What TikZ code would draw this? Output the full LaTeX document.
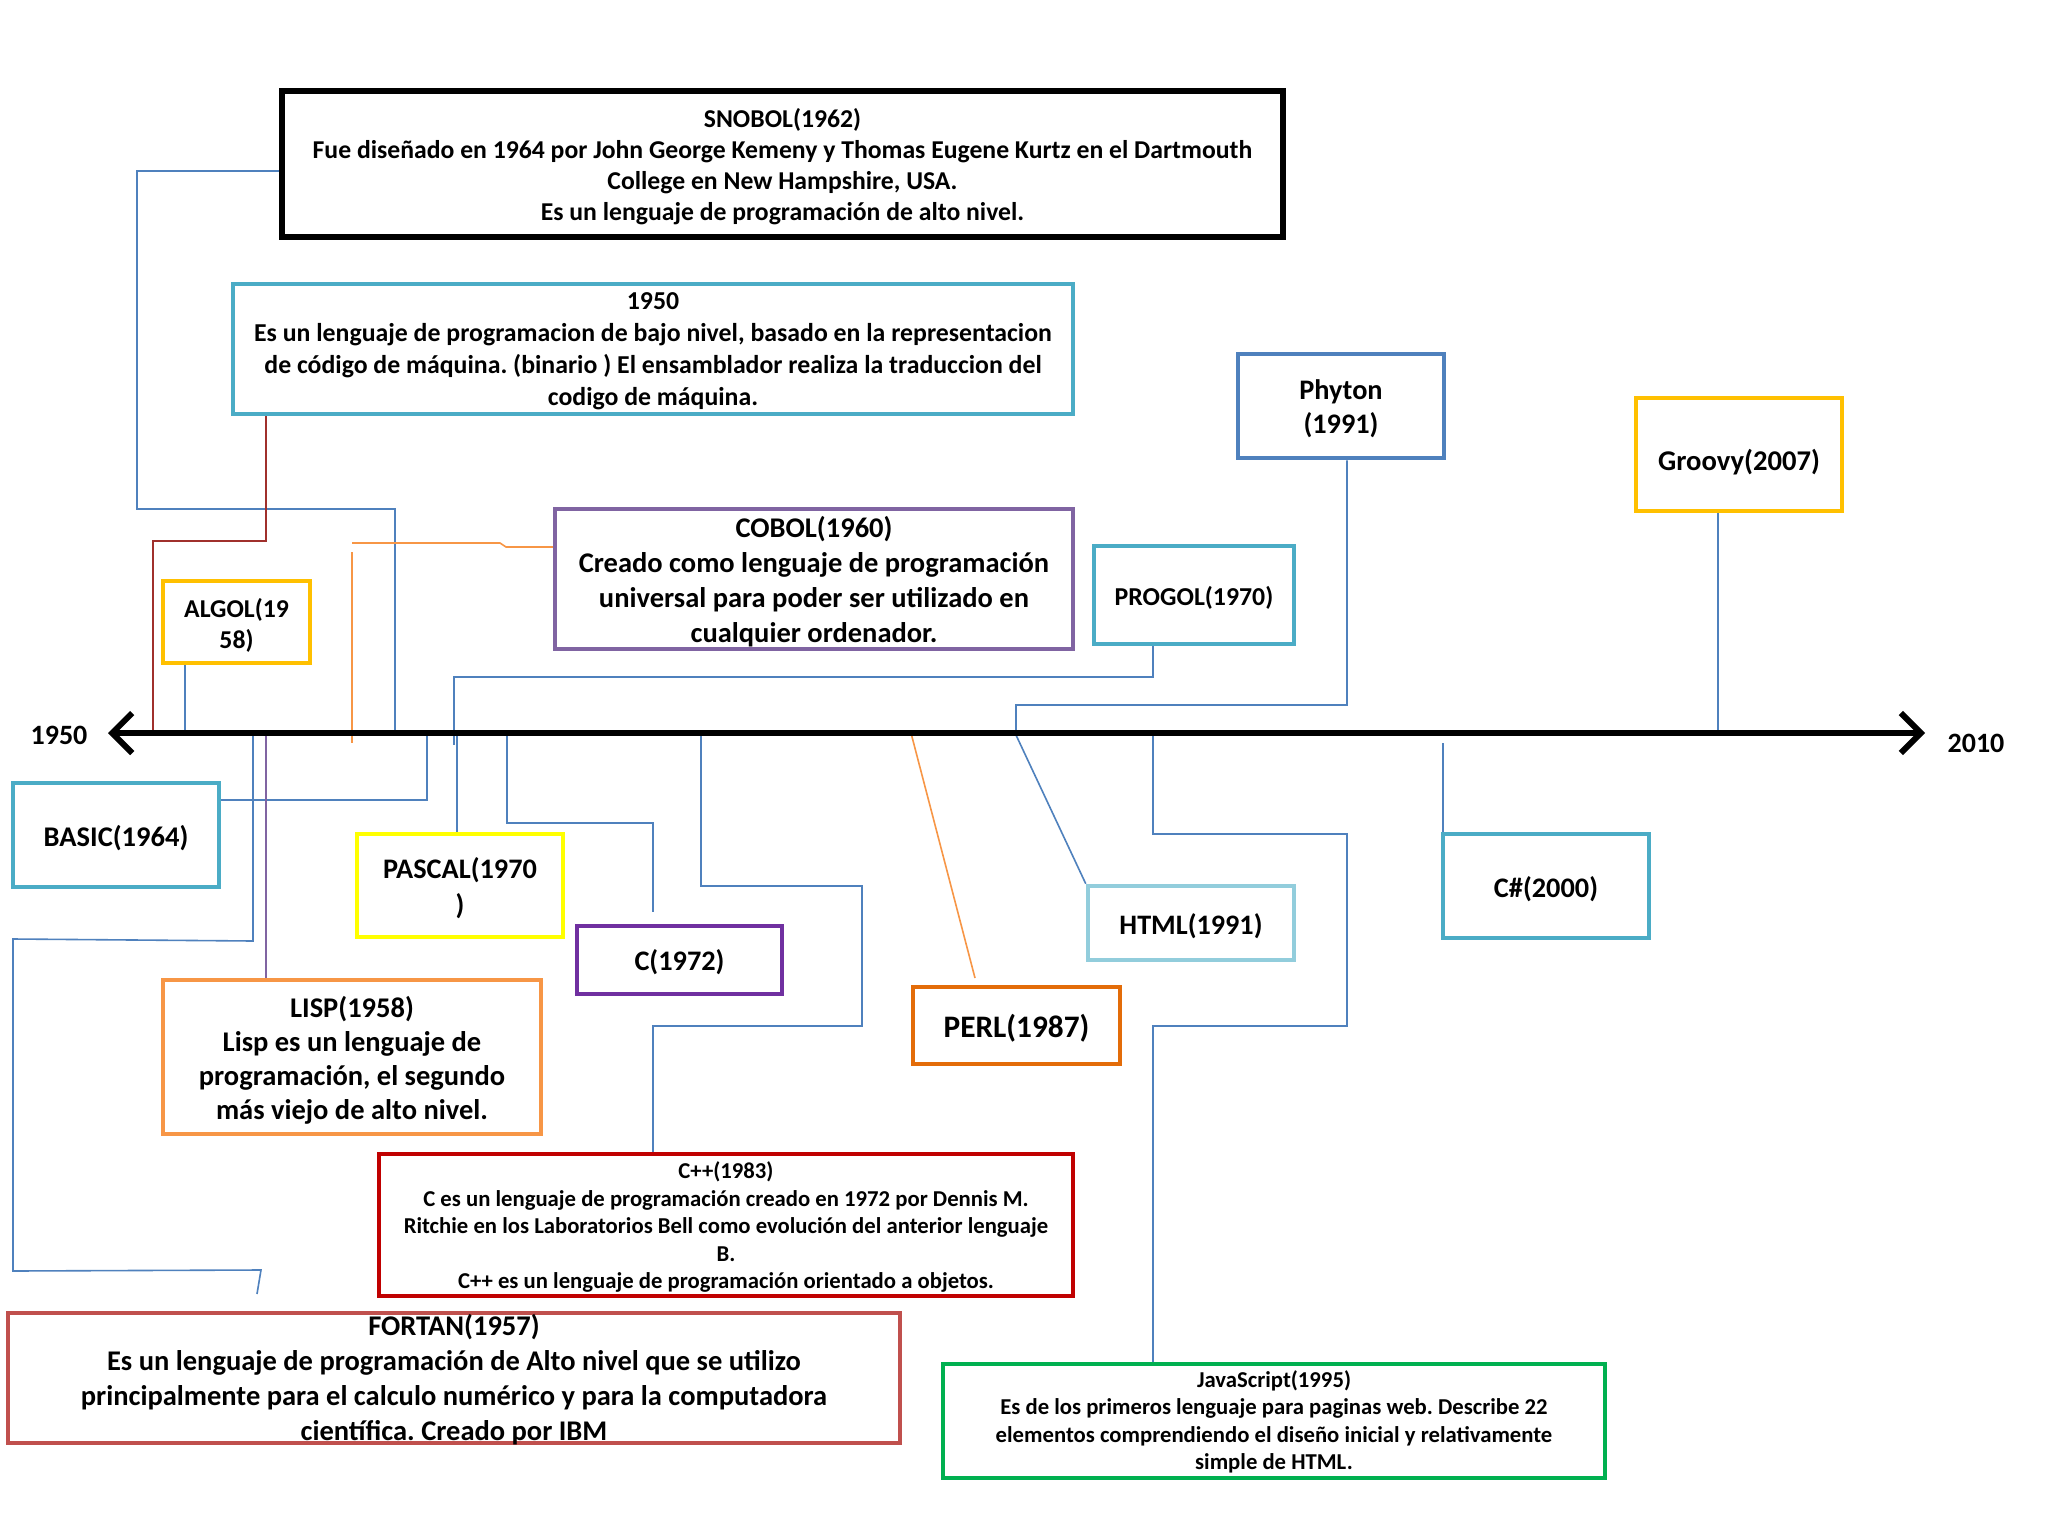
\documentclass[tikz,border=0pt]{standalone}
\usepackage{fontspec}
\setmainfont{Carlito}
\usetikzlibrary{arrows.meta}
\frenchspacing
\definecolor{cyanb}{HTML}{4BACC6}
\definecolor{cobolc}{HTML}{8064A2}
\definecolor{goldc}{HTML}{FFC000}
\definecolor{lispc}{HTML}{F79646}
\definecolor{pascalc}{HTML}{FFFF00}
\definecolor{cc}{HTML}{7030A0}
\definecolor{cppc}{HTML}{C00000}
\definecolor{fortc}{HTML}{C0504D}
\definecolor{perlc}{HTML}{E36C09}
\definecolor{htmlc}{HTML}{92CDDC}
\definecolor{phyc}{HTML}{4F81BD}
\definecolor{jsc}{HTML}{00B050}
\definecolor{connb}{HTML}{4F81BD}
\definecolor{connr}{HTML}{A0302C}
\definecolor{conno}{HTML}{F79646}
\definecolor{connp}{HTML}{8064A2}
\tikzset{
  box/.style={draw, line width=4.5pt, inner sep=0pt},
  txt/.style={inner sep=0pt, align=center},
  fsA/.style={font=\bfseries\fontsize{25.7}{31}\selectfont},
  fsB/.style={font=\bfseries\fontsize{28.5}{35}\selectfont},
  fsC/.style={font=\bfseries\fontsize{22.7}{27.5}\selectfont},
  conn/.style={draw=connb, line width=1.6pt},
  lbl/.style={font=\bfseries\fontsize{28}{34}\selectfont, inner sep=0pt}
}
\begin{document}
\begin{tikzpicture}[x=1pt,y=-1pt]
\useasboundingbox[fill=white] (0,0) rectangle (2048,1536);
% boxes
\node[box, line width=5.5pt, minimum width=1001pt, minimum height=146pt] (snobol) at (782.5,164) {};
\node[txt, fsA] (snobolT) at ([yshift=-3pt]snobol.center)
 {SNOBOL(1962)\\Fue diseñado en 1964 por John George Kemeny y Thomas Eugene Kurtz en el Dartmouth\\College en New Hampshire, USA.\\Es un lenguaje de programación de alto nivel.};
\node[box, draw=cyanb, minimum width=840pt, minimum height=130pt] (b1950) at (653,349) {};
\node[txt, font=\bfseries\fontsize{25.8}{32}\selectfont] (b1950T) at ([yshift=-2pt]b1950.center)
 {1950\\Es un lenguaje de programacion de bajo nivel, basado en la representacion\\de código de máquina. (binario ) El ensamblador realiza la traduccion del\\codigo de máquina.};
\node[box, draw=cobolc, minimum width=518pt, minimum height=140pt] (cobol) at (814,579) {};
\node[txt, fsB] (cobolT) at ([yshift=-3pt]cobol.center)
 {COBOL(1960)\\Creado como lenguaje de programación\\universal para poder ser utilizado en\\cualquier ordenador.};
\node[box, draw=goldc, minimum width=147pt, minimum height=82pt] (algol) at (236.5,622) {};
\node[txt, fsA] (algolT) at ([yshift=-3pt]algol.center) {ALGOL(19\\58)};
\node[box, draw=cyanb, minimum width=200pt, minimum height=98pt] (progol) at (1194,595) {};
\node[txt, font=\bfseries\fontsize{25.8}{31}\selectfont] (progolT) at ([yshift=-3pt]progol.center) {PROGOL(1970)};
\node[box, draw=phyc, minimum width=206pt, minimum height=104pt] (phyton) at (1341,406) {};
\node[txt, font=\bfseries\fontsize{28.3}{34}\selectfont] (phytonT) at ([yshift=-3pt]phyton.center) {Phyton\\(1991)};
\node[box, draw=goldc, minimum width=206pt, minimum height=113pt] (groovy) at (1739,454.5) {};
\node[txt, font=\bfseries\fontsize{28.6}{34}\selectfont] (groovyT) at ([yshift=-8pt]groovy.center) {Groovy(2007)};
\node[box, draw=cyanb, minimum width=206pt, minimum height=104pt] (basic) at (116,835) {};
\node[txt, font=\bfseries\fontsize{28.5}{34}\selectfont] (basicT) at ([yshift=-3pt]basic.center) {BASIC(1964)};
\node[box, draw=pascalc, minimum width=206pt, minimum height=103pt] (pascal) at (460,885.5) {};
\node[txt, font=\bfseries\fontsize{28.3}{36}\selectfont] (pascalT) at ([yshift=-3pt]pascal.center) {PASCAL(1970\\)};
\node[box, draw=cc, minimum width=205pt, minimum height=68pt] (cbox) at (679.5,960) {};
\node[txt, font=\bfseries\fontsize{28.3}{34}\selectfont] (cboxT) at ([yshift=-2pt]cbox.center) {C(1972)};
\node[box, draw=lispc, minimum width=378pt, minimum height=154pt] (lisp) at (352,1057) {};
\node[txt, font=\bfseries\fontsize{28.5}{34}\selectfont] (lispT) at ([yshift=-3pt]lisp.center)
 {LISP(1958)\\Lisp es un lenguaje de\\programación, el segundo\\más viejo de alto nivel.};
\node[box, draw=cppc, minimum width=694pt, minimum height=142pt] (cpp) at (726,1225) {};
\node[txt, fsC] (cppT) at ([yshift=-2pt]cpp.center)
 {C++(1983)\\C es un lenguaje de programación creado en 1972 por Dennis M.\\Ritchie en los Laboratorios Bell como evolución del anterior lenguaje\\B.\\C++ es un lenguaje de programación orientado a objetos.};
\node[box, draw=fortc, minimum width=892pt, minimum height=130pt] (fortran) at (454,1378) {};
\node[txt, fsB] (fortranT) at ([yshift=-2pt]fortran.center)
 {FORTAN(1957)\\Es un lenguaje de programación de Alto nivel que se utilizo\\principalmente para el calculo numérico y para la computadora\\científica. Creado por IBM};
\node[box, draw=perlc, minimum width=207pt, minimum height=77pt] (perl) at (1016.5,1025.5) {};
\node[txt, font=\bfseries\fontsize{31.3}{36}\selectfont] (perlT) at ([yshift=-3pt]perl.center) {PERL(1987)};
\node[box, draw=htmlc, minimum width=206pt, minimum height=74pt] (html) at (1191,923) {};
\node[txt, font=\bfseries\fontsize{28.2}{34}\selectfont] (htmlT) at ([yshift=-3pt]html.center) {HTML(1991)};
\node[box, draw=cyanb, minimum width=206pt, minimum height=104pt] (csharp) at (1546,886) {};
\node[txt, font=\bfseries\fontsize{28.3}{34}\selectfont] (csharpT) at ([yshift=-3pt]csharp.center) {C\#(2000)};
\node[box, draw=jsc, minimum width=662pt, minimum height=114pt] (js) at (1274,1421) {};
\node[txt, fsC] (jsT) at ([yshift=-1pt]js.center)
 {JavaScript(1995)\\Es de los primeros lenguaje para paginas web. Describe 22\\elementos comprendiendo el diseño inicial y relativamente\\simple de HTML.};
% axis coordinates
\coordinate (axL) at (108,733);
\coordinate (axR) at (1925,733);
% connectors
\draw[conn] (snobol.west |- 0,171) -- (137,171) -- (137,509) -- (395,509) -- (395,733);
\draw[draw=connr, line width=1.6pt] (b1950.south -| 266,0) -- (266,541) -- (153,541) -- (153,733);
\draw[conn] (algol.south -| 185,0) -- (185,733);
\draw[draw=conno, line width=1.6pt] (cobol.west |- 0,547) -- (506,547) -- (500,543) -- (352,543);
\coordinate (orangeEnd) at (352,743);
\draw[draw=conno, line width=1.6pt] (352,552) -- (orangeEnd);
\draw[conn] (progol.south -| 1153,0) -- (1153,677) -- (454,677) -- (454,745);
\draw[conn] (phyton.south -| 1347,0) -- (1347,705) -- (1016,705) -- (1016,735) -- (html.north west);
\draw[conn] (groovy.south -| 1718,0) -- (1718,733);
\draw[conn] (basic.east |- 0,800) -- (427,800) -- (427,733);
\coordinate (fortEnd) at (257,1294);
\draw[conn] (253,733) -- (253,941) -- (13,939) -- (13,1271) -- (261,1270) -- (fortEnd);
\draw[draw=connp, line width=1.6pt] (266,733) -- (lisp.north -| 266,0);
\draw[conn] (457,733) -- (pascal.north -| 457,0);
\coordinate (cEnd) at (653,912);
\draw[conn] (507,733) -- (507,823) -- (653,823) -- (cEnd);
\draw[conn] (701,733) -- (701,886) -- (862,886) -- (862,1026) -- (653,1026) -- (cpp.north -| 653,0);
\draw[draw=conno, line width=1.6pt] (911,733) -- (975,978);
\draw[conn] (1153,733) -- (1153,834) -- (1347,834) -- (1347,1026) -- (1153,1026) -- (js.north -| 1153,0);
\draw[conn] (1443,743) -- (csharp.north -| 1443,0);
% axis
\draw[line width=6pt, {Straight Barb[length=20pt,width=40pt]}-{Straight Barb[length=20pt,width=40pt]}] (axL) -- (axR);
\node[lbl] (y1950) at (59,735) {1950};
\node[lbl] (y2010) at (1976,743) {2010};
\end{tikzpicture}
\end{document}
